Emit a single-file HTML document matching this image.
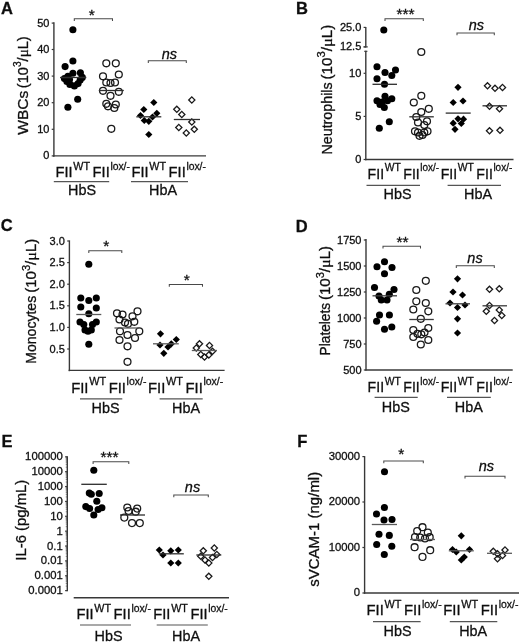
<!DOCTYPE html>
<html lang="en">
<head>
<meta charset="utf-8">
<title>Figure</title>
<style>
html,body{margin:0;padding:0;background:#fff;}
body{width:520px;height:643px;overflow:hidden;}
svg{display:block;}
svg text{font-family:"Liberation Sans",sans-serif;fill:#111;stroke:#111;stroke-width:0.3px;}
</style>
</head>
<body>
<svg width="520" height="643" viewBox="0 0 520 643">
<defs><filter id="soft" x="0" y="0" width="100%" height="100%" filterUnits="userSpaceOnUse"><feGaussianBlur stdDeviation="0.4"/></filter></defs>
<rect width="520" height="643" fill="#fff"/>
<g filter="url(#soft)">
<text x="1" y="13.7" font-size="16.5" font-weight="bold">A</text>
<line x1="53.9" y1="22.3" x2="53.9" y2="156.7" stroke="#383838" stroke-width="1.4"/>
<line x1="53.12" y1="155.9" x2="206" y2="155.9" stroke="#383838" stroke-width="1.4"/>
<line x1="51.7" y1="23.1" x2="53.9" y2="23.1" stroke="#383838" stroke-width="1.2"/>
<text x="49.4" y="26.6" font-size="11" text-anchor="end">50</text>
<line x1="51.7" y1="49.5" x2="53.9" y2="49.5" stroke="#383838" stroke-width="1.2"/>
<text x="49.4" y="53" font-size="11" text-anchor="end">40</text>
<line x1="51.7" y1="76.1" x2="53.9" y2="76.1" stroke="#383838" stroke-width="1.2"/>
<text x="49.4" y="79.6" font-size="11" text-anchor="end">30</text>
<line x1="51.7" y1="102.7" x2="53.9" y2="102.7" stroke="#383838" stroke-width="1.2"/>
<text x="49.4" y="106.2" font-size="11" text-anchor="end">20</text>
<line x1="51.7" y1="129.3" x2="53.9" y2="129.3" stroke="#383838" stroke-width="1.2"/>
<text x="49.4" y="132.8" font-size="11" text-anchor="end">10</text>
<line x1="51.7" y1="155.9" x2="53.9" y2="155.9" stroke="#383838" stroke-width="1.2"/>
<text x="49.4" y="159.4" font-size="11" text-anchor="end">0</text>
<text transform="translate(27.8 134.8) rotate(-90)" font-size="15" stroke="none" textLength="44.1" lengthAdjust="spacingAndGlyphs">WBCs</text>
<text transform="translate(27.8 88.2) rotate(-90)" font-size="15" stroke="none" textLength="51.9" lengthAdjust="spacingAndGlyphs">(10<tspan font-size="10.5" dy="-6.8">3</tspan><tspan dy="6.8">/</tspan><tspan font-family="'Liberation Serif',serif" font-size="15.5">μ</tspan>L)</text>
<circle cx="72.9" cy="29.8" r="3.5500000000000003" fill="#000"/>
<circle cx="72.9" cy="61" r="3.5500000000000003" fill="#000"/>
<circle cx="65.1" cy="66.6" r="3.5500000000000003" fill="#000"/>
<circle cx="72.9" cy="73.2" r="3.5500000000000003" fill="#000"/>
<circle cx="80.4" cy="72.8" r="3.5500000000000003" fill="#000"/>
<circle cx="64.4" cy="78.6" r="3.5500000000000003" fill="#000"/>
<circle cx="67.9" cy="76.2" r="3.5500000000000003" fill="#000"/>
<circle cx="66.9" cy="81.4" r="3.5500000000000003" fill="#000"/>
<circle cx="69.9" cy="84.4" r="3.5500000000000003" fill="#000"/>
<circle cx="74.4" cy="85.9" r="3.5500000000000003" fill="#000"/>
<circle cx="78.1" cy="83.6" r="3.5500000000000003" fill="#000"/>
<circle cx="80.2" cy="79.9" r="3.5500000000000003" fill="#000"/>
<circle cx="82.3" cy="77.4" r="3.5500000000000003" fill="#000"/>
<circle cx="69.5" cy="79.5" r="3.5500000000000003" fill="#000"/>
<circle cx="77.7" cy="99.3" r="3.5500000000000003" fill="#000"/>
<circle cx="67.9" cy="107.3" r="3.5500000000000003" fill="#000"/>
<line x1="60" y1="77.5" x2="86.3" y2="77.5" stroke="#2e2e2e" stroke-width="1.3"/>
<circle cx="106.3" cy="63.3" r="3.45" fill="none" stroke="#1a1a1a" stroke-width="1.3"/>
<circle cx="115.8" cy="63.3" r="3.45" fill="none" stroke="#1a1a1a" stroke-width="1.3"/>
<circle cx="118.8" cy="74.5" r="3.45" fill="none" stroke="#1a1a1a" stroke-width="1.3"/>
<circle cx="103" cy="76.3" r="3.45" fill="none" stroke="#1a1a1a" stroke-width="1.3"/>
<circle cx="106.3" cy="82.5" r="3.45" fill="none" stroke="#1a1a1a" stroke-width="1.3"/>
<circle cx="110.5" cy="83" r="3.45" fill="none" stroke="#1a1a1a" stroke-width="1.3"/>
<circle cx="115" cy="82.5" r="3.45" fill="none" stroke="#1a1a1a" stroke-width="1.3"/>
<circle cx="103" cy="90.8" r="3.45" fill="none" stroke="#1a1a1a" stroke-width="1.3"/>
<circle cx="118.8" cy="91.8" r="3.45" fill="none" stroke="#1a1a1a" stroke-width="1.3"/>
<circle cx="110.5" cy="95.8" r="3.45" fill="none" stroke="#1a1a1a" stroke-width="1.3"/>
<circle cx="106.3" cy="103.8" r="3.45" fill="none" stroke="#1a1a1a" stroke-width="1.3"/>
<circle cx="115.8" cy="104.5" r="3.45" fill="none" stroke="#1a1a1a" stroke-width="1.3"/>
<circle cx="108" cy="106.3" r="3.45" fill="none" stroke="#1a1a1a" stroke-width="1.3"/>
<circle cx="114.3" cy="108" r="3.45" fill="none" stroke="#1a1a1a" stroke-width="1.3"/>
<circle cx="111.3" cy="128.8" r="3.45" fill="none" stroke="#1a1a1a" stroke-width="1.3"/>
<line x1="98.8" y1="90.5" x2="123.8" y2="90.5" stroke="#2e2e2e" stroke-width="1.3"/>
<path d="M153.8 98.9L157.4 102.5L153.8 106.1L150.2 102.5Z" fill="#000"/>
<path d="M143.8 105.9L147.4 109.5L143.8 113.1L140.2 109.5Z" fill="#000"/>
<path d="M156.8 109.7L160.4 113.3L156.8 116.9L153.2 113.3Z" fill="#000"/>
<path d="M140.5 111.9L144.1 115.5L140.5 119.1L136.9 115.5Z" fill="#000"/>
<path d="M152.5 113.4L156.1 117L152.5 120.6L148.9 117Z" fill="#000"/>
<path d="M144.3 116.9L147.9 120.5L144.3 124.1L140.7 120.5Z" fill="#000"/>
<path d="M148.8 117.7L152.4 121.3L148.8 124.9L145.2 121.3Z" fill="#000"/>
<path d="M148.8 130.9L152.4 134.5L148.8 138.1L145.2 134.5Z" fill="#000"/>
<line x1="136.3" y1="116.8" x2="161.3" y2="116.8" stroke="#2e2e2e" stroke-width="1.3"/>
<path d="M191.8 96.9L194.9 100L191.8 103.1L188.7 100Z" fill="none" stroke="#1a1a1a" stroke-width="1.3"/>
<path d="M176.8 106.2L179.9 109.3L176.8 112.4L173.7 109.3Z" fill="none" stroke="#1a1a1a" stroke-width="1.3"/>
<path d="M181.8 111.4L184.9 114.5L181.8 117.6L178.7 114.5Z" fill="none" stroke="#1a1a1a" stroke-width="1.3"/>
<path d="M191.8 118.9L194.9 122L191.8 125.1L188.7 122Z" fill="none" stroke="#1a1a1a" stroke-width="1.3"/>
<path d="M178.8 124.4L181.9 127.5L178.8 130.6L175.7 127.5Z" fill="none" stroke="#1a1a1a" stroke-width="1.3"/>
<path d="M194.3 126.2L197.4 129.3L194.3 132.4L191.2 129.3Z" fill="none" stroke="#1a1a1a" stroke-width="1.3"/>
<path d="M186.3 129.9L189.4 133L186.3 136.1L183.2 133Z" fill="none" stroke="#1a1a1a" stroke-width="1.3"/>
<line x1="173.8" y1="119.5" x2="200" y2="119.5" stroke="#2e2e2e" stroke-width="1.3"/>
<path d="M74.3 21V18.8H112.5V21" fill="none" stroke="#4a4a4a" stroke-width="1.05"/>
<text x="91.8" y="19.7" font-size="15.5" text-anchor="middle" stroke-width="0.7">*</text>
<path d="M148.3 63V60.8H186.3V63" fill="none" stroke="#4a4a4a" stroke-width="1.05"/>
<text x="169.3" y="58.5" font-size="14.5" text-anchor="middle" font-style="italic">ns</text>
<text x="55.5" y="177" font-size="14.3" textLength="17.14" lengthAdjust="spacingAndGlyphs">FII</text>
<text x="73.35" y="169.6" font-size="11" textLength="16.73" lengthAdjust="spacingAndGlyphs">WT</text>
<text x="92.63" y="177" font-size="14.3" textLength="17.14" lengthAdjust="spacingAndGlyphs">FII</text>
<text x="110.38" y="169.6" font-size="11" textLength="19.58" lengthAdjust="spacingAndGlyphs">lox/-</text>
<text x="131.5" y="177" font-size="14.3" textLength="17.14" lengthAdjust="spacingAndGlyphs">FII</text>
<text x="149.35" y="169.6" font-size="11" textLength="16.73" lengthAdjust="spacingAndGlyphs">WT</text>
<text x="168.63" y="177" font-size="14.3" textLength="17.14" lengthAdjust="spacingAndGlyphs">FII</text>
<text x="186.38" y="169.6" font-size="11" textLength="19.58" lengthAdjust="spacingAndGlyphs">lox/-</text>
<line x1="53.8" y1="181.6" x2="109.2" y2="181.6" stroke="#555" stroke-width="1.2"/>
<line x1="131" y1="181.6" x2="188" y2="181.6" stroke="#555" stroke-width="1.2"/>
<text x="82" y="194.5" font-size="14.4" text-anchor="middle">HbS</text>
<text x="163" y="194.5" font-size="14.4" text-anchor="middle">HbA</text>
<text x="296" y="13.5" font-size="16.5" font-weight="bold">B</text>
<line x1="365.8" y1="26.9" x2="365.8" y2="47.4" stroke="#383838" stroke-width="1.4"/>
<line x1="365.8" y1="50.8" x2="365.8" y2="160.2" stroke="#383838" stroke-width="1.4"/>
<line x1="363.6" y1="46.9" x2="367.8" y2="46.9" stroke="#383838" stroke-width="1.1"/>
<line x1="364.2" y1="51.3" x2="367.4" y2="51.3" stroke="#383838" stroke-width="1.1"/>
<line x1="365.1" y1="159.5" x2="513.5" y2="159.5" stroke="#383838" stroke-width="1.4"/>
<line x1="363.6" y1="27.4" x2="365.8" y2="27.4" stroke="#383838" stroke-width="1.2"/>
<text x="361.3" y="30.9" font-size="11" text-anchor="end">25.0</text>
<line x1="363.6" y1="46.9" x2="365.8" y2="46.9" stroke="#383838" stroke-width="1.2"/>
<text x="361.3" y="50.4" font-size="11" text-anchor="end">12.5</text>
<line x1="363.6" y1="73.3" x2="365.8" y2="73.3" stroke="#383838" stroke-width="1.2"/>
<text x="361.3" y="76.8" font-size="11" text-anchor="end">10</text>
<line x1="363.6" y1="116.4" x2="365.8" y2="116.4" stroke="#383838" stroke-width="1.2"/>
<text x="361.3" y="119.9" font-size="11" text-anchor="end">5</text>
<line x1="363.6" y1="159.5" x2="365.8" y2="159.5" stroke="#383838" stroke-width="1.2"/>
<text x="361.3" y="163" font-size="11" text-anchor="end">0</text>
<text transform="translate(331.9 154.5) rotate(-90)" font-size="14.3" stroke="none" textLength="72.1" lengthAdjust="spacingAndGlyphs">Neutrophils</text>
<text transform="translate(331.9 79.5) rotate(-90)" font-size="14.3" stroke="none" textLength="54.8" lengthAdjust="spacingAndGlyphs">(10<tspan font-size="10.5" dy="-6.8">3</tspan><tspan dy="6.8">/</tspan><tspan font-family="'Liberation Serif',serif" font-size="15.5">μ</tspan>L)</text>
<circle cx="383.8" cy="30" r="3.5500000000000003" fill="#000"/>
<circle cx="377" cy="66.8" r="3.5500000000000003" fill="#000"/>
<circle cx="395.5" cy="70" r="3.5500000000000003" fill="#000"/>
<circle cx="385" cy="72.5" r="3.5500000000000003" fill="#000"/>
<circle cx="391.8" cy="75.5" r="3.5500000000000003" fill="#000"/>
<circle cx="377" cy="78.8" r="3.5500000000000003" fill="#000"/>
<circle cx="384.5" cy="84.3" r="3.5500000000000003" fill="#000"/>
<circle cx="385" cy="96.3" r="3.5500000000000003" fill="#000"/>
<circle cx="391.8" cy="98.8" r="3.5500000000000003" fill="#000"/>
<circle cx="377" cy="100.8" r="3.5500000000000003" fill="#000"/>
<circle cx="387.5" cy="100.8" r="3.5500000000000003" fill="#000"/>
<circle cx="380" cy="104.5" r="3.5500000000000003" fill="#000"/>
<circle cx="384.3" cy="107.5" r="3.5500000000000003" fill="#000"/>
<circle cx="389.3" cy="121.8" r="3.5500000000000003" fill="#000"/>
<circle cx="379.3" cy="128.3" r="3.5500000000000003" fill="#000"/>
<circle cx="382" cy="102" r="3.5500000000000003" fill="#000"/>
<line x1="372.5" y1="84.3" x2="397" y2="84.3" stroke="#2e2e2e" stroke-width="1.3"/>
<circle cx="421.3" cy="52" r="3.45" fill="none" stroke="#1a1a1a" stroke-width="1.3"/>
<circle cx="421.3" cy="95.8" r="3.45" fill="none" stroke="#1a1a1a" stroke-width="1.3"/>
<circle cx="413.8" cy="102.5" r="3.45" fill="none" stroke="#1a1a1a" stroke-width="1.3"/>
<circle cx="428.8" cy="108.8" r="3.45" fill="none" stroke="#1a1a1a" stroke-width="1.3"/>
<circle cx="421.3" cy="112" r="3.45" fill="none" stroke="#1a1a1a" stroke-width="1.3"/>
<circle cx="416.3" cy="117" r="3.45" fill="none" stroke="#1a1a1a" stroke-width="1.3"/>
<circle cx="427" cy="121.3" r="3.45" fill="none" stroke="#1a1a1a" stroke-width="1.3"/>
<circle cx="418" cy="122.5" r="3.45" fill="none" stroke="#1a1a1a" stroke-width="1.3"/>
<circle cx="424.3" cy="125" r="3.45" fill="none" stroke="#1a1a1a" stroke-width="1.3"/>
<circle cx="415" cy="131.3" r="3.45" fill="none" stroke="#1a1a1a" stroke-width="1.3"/>
<circle cx="427.5" cy="131.3" r="3.45" fill="none" stroke="#1a1a1a" stroke-width="1.3"/>
<circle cx="418" cy="132.5" r="3.45" fill="none" stroke="#1a1a1a" stroke-width="1.3"/>
<circle cx="424.3" cy="132.5" r="3.45" fill="none" stroke="#1a1a1a" stroke-width="1.3"/>
<circle cx="419.5" cy="135.8" r="3.45" fill="none" stroke="#1a1a1a" stroke-width="1.3"/>
<circle cx="422.5" cy="135" r="3.45" fill="none" stroke="#1a1a1a" stroke-width="1.3"/>
<line x1="409.3" y1="116.8" x2="433.8" y2="116.8" stroke="#2e2e2e" stroke-width="1.3"/>
<path d="M458 83.7L461.6 87.3L458 90.9L454.4 87.3Z" fill="#000"/>
<path d="M453.2 98.9L456.8 102.5L453.2 106.1L449.6 102.5Z" fill="#000"/>
<path d="M463 97.4L466.6 101L463 104.6L459.4 101Z" fill="#000"/>
<path d="M458 115.2L461.6 118.8L458 122.4L454.4 118.8Z" fill="#000"/>
<path d="M463.5 115.6L467.1 119.2L463.5 122.8L459.9 119.2Z" fill="#000"/>
<path d="M453.2 119.6L456.8 123.2L453.2 126.8L449.6 123.2Z" fill="#000"/>
<path d="M461.3 119.9L464.9 123.5L461.3 127.1L457.7 123.5Z" fill="#000"/>
<path d="M455 125.7L458.6 129.3L455 132.9L451.4 129.3Z" fill="#000"/>
<line x1="445.7" y1="113.1" x2="470.7" y2="113.1" stroke="#2e2e2e" stroke-width="1.3"/>
<path d="M487.5 82.7L490.6 85.8L487.5 88.9L484.4 85.8Z" fill="none" stroke="#1a1a1a" stroke-width="1.3"/>
<path d="M495 85.2L498.1 88.3L495 91.4L491.9 88.3Z" fill="none" stroke="#1a1a1a" stroke-width="1.3"/>
<path d="M502.5 84.4L505.6 87.5L502.5 90.6L499.4 87.5Z" fill="none" stroke="#1a1a1a" stroke-width="1.3"/>
<path d="M489.5 103.2L492.6 106.3L489.5 109.4L486.4 106.3Z" fill="none" stroke="#1a1a1a" stroke-width="1.3"/>
<path d="M499.5 105.7L502.6 108.8L499.5 111.9L496.4 108.8Z" fill="none" stroke="#1a1a1a" stroke-width="1.3"/>
<path d="M489.5 127.7L492.6 130.8L489.5 133.9L486.4 130.8Z" fill="none" stroke="#1a1a1a" stroke-width="1.3"/>
<path d="M500 127.2L503.1 130.3L500 133.4L496.9 130.3Z" fill="none" stroke="#1a1a1a" stroke-width="1.3"/>
<line x1="482.5" y1="105.8" x2="507" y2="105.8" stroke="#2e2e2e" stroke-width="1.3"/>
<path d="M385 21V18.8H423.3V21" fill="none" stroke="#4a4a4a" stroke-width="1.05"/>
<text x="405.5" y="19.4" font-size="15.5" text-anchor="middle" stroke-width="0.7">***</text>
<path d="M457 35.2V33H494.3V35.2" fill="none" stroke="#4a4a4a" stroke-width="1.05"/>
<text x="476.3" y="30" font-size="14.5" text-anchor="middle" font-style="italic">ns</text>
<text x="367.6" y="178.5" font-size="14.3" textLength="16.46" lengthAdjust="spacingAndGlyphs">FII</text>
<text x="384.75" y="171.1" font-size="11" textLength="16.07" lengthAdjust="spacingAndGlyphs">WT</text>
<text x="403.27" y="178.5" font-size="14.3" textLength="16.46" lengthAdjust="spacingAndGlyphs">FII</text>
<text x="420.32" y="171.1" font-size="11" textLength="18.82" lengthAdjust="spacingAndGlyphs">lox/-</text>
<text x="440.7" y="178.5" font-size="14.3" textLength="16.46" lengthAdjust="spacingAndGlyphs">FII</text>
<text x="457.85" y="171.1" font-size="11" textLength="16.07" lengthAdjust="spacingAndGlyphs">WT</text>
<text x="476.37" y="178.5" font-size="14.3" textLength="16.46" lengthAdjust="spacingAndGlyphs">FII</text>
<text x="493.42" y="171.1" font-size="11" textLength="18.82" lengthAdjust="spacingAndGlyphs">lox/-</text>
<line x1="366.5" y1="185.3" x2="420" y2="185.3" stroke="#555" stroke-width="1.2"/>
<line x1="447.6" y1="185.3" x2="501" y2="185.3" stroke="#555" stroke-width="1.2"/>
<text x="397.6" y="198.9" font-size="14.4" text-anchor="middle">HbS</text>
<text x="478" y="198.9" font-size="14.4" text-anchor="middle">HbA</text>
<text x="0.7" y="231.2" font-size="16.5" font-weight="bold">C</text>
<line x1="69.4" y1="240.4" x2="69.4" y2="371.2" stroke="#383838" stroke-width="1.4"/>
<line x1="68.62" y1="370.4" x2="224.6" y2="370.4" stroke="#383838" stroke-width="1.4"/>
<line x1="67.2" y1="241" x2="69.4" y2="241" stroke="#383838" stroke-width="1.2"/>
<text x="64.9" y="244.5" font-size="11" text-anchor="end">3.0</text>
<line x1="67.2" y1="262.6" x2="69.4" y2="262.6" stroke="#383838" stroke-width="1.2"/>
<text x="64.9" y="266.1" font-size="11" text-anchor="end">2.5</text>
<line x1="67.2" y1="284.2" x2="69.4" y2="284.2" stroke="#383838" stroke-width="1.2"/>
<text x="64.9" y="287.7" font-size="11" text-anchor="end">2.0</text>
<line x1="67.2" y1="305.8" x2="69.4" y2="305.8" stroke="#383838" stroke-width="1.2"/>
<text x="64.9" y="309.3" font-size="11" text-anchor="end">1.5</text>
<line x1="67.2" y1="327.4" x2="69.4" y2="327.4" stroke="#383838" stroke-width="1.2"/>
<text x="64.9" y="330.9" font-size="11" text-anchor="end">1.0</text>
<line x1="67.2" y1="349" x2="69.4" y2="349" stroke="#383838" stroke-width="1.2"/>
<text x="64.9" y="352.5" font-size="11" text-anchor="end">0.5</text>
<text transform="translate(36.4 363.7) rotate(-90)" font-size="14.3" stroke="none" textLength="67.9" lengthAdjust="spacingAndGlyphs">Monocytes</text>
<text transform="translate(36.4 292.8) rotate(-90)" font-size="14.3" stroke="none" textLength="54.1" lengthAdjust="spacingAndGlyphs">(10<tspan font-size="10.5" dy="-6.8">3</tspan><tspan dy="6.8">/</tspan><tspan font-family="'Liberation Serif',serif" font-size="15.5">μ</tspan>L)</text>
<circle cx="88.8" cy="264.3" r="3.5500000000000003" fill="#000"/>
<circle cx="80.8" cy="298" r="3.5500000000000003" fill="#000"/>
<circle cx="88.8" cy="300.5" r="3.5500000000000003" fill="#000"/>
<circle cx="96.3" cy="298" r="3.5500000000000003" fill="#000"/>
<circle cx="80.8" cy="307" r="3.5500000000000003" fill="#000"/>
<circle cx="96.3" cy="308" r="3.5500000000000003" fill="#000"/>
<circle cx="88.8" cy="313.8" r="3.5500000000000003" fill="#000"/>
<circle cx="80" cy="322" r="3.5500000000000003" fill="#000"/>
<circle cx="96.3" cy="322" r="3.5500000000000003" fill="#000"/>
<circle cx="83.8" cy="324.5" r="3.5500000000000003" fill="#000"/>
<circle cx="92.5" cy="324.5" r="3.5500000000000003" fill="#000"/>
<circle cx="85" cy="330" r="3.5500000000000003" fill="#000"/>
<circle cx="91.3" cy="330" r="3.5500000000000003" fill="#000"/>
<circle cx="88" cy="331.3" r="3.5500000000000003" fill="#000"/>
<circle cx="88.8" cy="344.3" r="3.5500000000000003" fill="#000"/>
<line x1="76.3" y1="314.5" x2="101.3" y2="314.5" stroke="#5a5a5a" stroke-width="1.3"/>
<circle cx="137.5" cy="311.3" r="3.45" fill="none" stroke="#1a1a1a" stroke-width="1.3"/>
<circle cx="117" cy="313.3" r="3.45" fill="none" stroke="#1a1a1a" stroke-width="1.3"/>
<circle cx="122.5" cy="314.5" r="3.45" fill="none" stroke="#1a1a1a" stroke-width="1.3"/>
<circle cx="132.5" cy="316.3" r="3.45" fill="none" stroke="#1a1a1a" stroke-width="1.3"/>
<circle cx="119.5" cy="319.5" r="3.45" fill="none" stroke="#1a1a1a" stroke-width="1.3"/>
<circle cx="134.3" cy="321.8" r="3.45" fill="none" stroke="#1a1a1a" stroke-width="1.3"/>
<circle cx="125" cy="322.5" r="3.45" fill="none" stroke="#1a1a1a" stroke-width="1.3"/>
<circle cx="128" cy="323.8" r="3.45" fill="none" stroke="#1a1a1a" stroke-width="1.3"/>
<circle cx="120" cy="331.3" r="3.45" fill="none" stroke="#1a1a1a" stroke-width="1.3"/>
<circle cx="139.3" cy="331.3" r="3.45" fill="none" stroke="#1a1a1a" stroke-width="1.3"/>
<circle cx="127.5" cy="335" r="3.45" fill="none" stroke="#1a1a1a" stroke-width="1.3"/>
<circle cx="135" cy="338" r="3.45" fill="none" stroke="#1a1a1a" stroke-width="1.3"/>
<circle cx="119.5" cy="340" r="3.45" fill="none" stroke="#1a1a1a" stroke-width="1.3"/>
<circle cx="127.5" cy="346.3" r="3.45" fill="none" stroke="#1a1a1a" stroke-width="1.3"/>
<circle cx="127.5" cy="361.8" r="3.45" fill="none" stroke="#1a1a1a" stroke-width="1.3"/>
<line x1="114.5" y1="328" x2="139.5" y2="328" stroke="#5a5a5a" stroke-width="1.3"/>
<path d="M160.5 330.2L164.1 333.8L160.5 337.4L156.9 333.8Z" fill="#000"/>
<path d="M176.3 335.9L179.9 339.5L176.3 343.1L172.7 339.5Z" fill="#000"/>
<path d="M171.3 340.2L174.9 343.8L171.3 347.4L167.7 343.8Z" fill="#000"/>
<path d="M160 341.4L163.6 345L160 348.6L156.4 345Z" fill="#000"/>
<path d="M168 343.4L171.6 347L168 350.6L164.4 347Z" fill="#000"/>
<path d="M163.8 349.7L167.4 353.3L163.8 356.9L160.2 353.3Z" fill="#000"/>
<line x1="153" y1="343.8" x2="178.8" y2="343.8" stroke="#5a5a5a" stroke-width="1.3"/>
<path d="M199.5 340.7L202.6 343.8L199.5 346.9L196.4 343.8Z" fill="none" stroke="#1a1a1a" stroke-width="1.3"/>
<path d="M209.5 342.4L212.6 345.5L209.5 348.6L206.4 345.5Z" fill="none" stroke="#1a1a1a" stroke-width="1.3"/>
<path d="M196.3 344.9L199.4 348L196.3 351.1L193.2 348Z" fill="none" stroke="#1a1a1a" stroke-width="1.3"/>
<path d="M212.5 348.2L215.6 351.3L212.5 354.4L209.4 351.3Z" fill="none" stroke="#1a1a1a" stroke-width="1.3"/>
<path d="M200.8 351.4L203.9 354.5L200.8 357.6L197.7 354.5Z" fill="none" stroke="#1a1a1a" stroke-width="1.3"/>
<path d="M208.8 351.9L211.9 355L208.8 358.1L205.7 355Z" fill="none" stroke="#1a1a1a" stroke-width="1.3"/>
<path d="M204.5 353.9L207.6 357L204.5 360.1L201.4 357Z" fill="none" stroke="#1a1a1a" stroke-width="1.3"/>
<line x1="191.8" y1="350.5" x2="217" y2="350.5" stroke="#5a5a5a" stroke-width="1.3"/>
<path d="M88.8 253V250.8H121.8V253" fill="none" stroke="#4a4a4a" stroke-width="1.05"/>
<text x="106.3" y="251.2" font-size="15.5" text-anchor="middle" stroke-width="0.7">*</text>
<path d="M169.3 286.7V284.5H202.5V286.7" fill="none" stroke="#4a4a4a" stroke-width="1.05"/>
<text x="186.8" y="284.7" font-size="15.5" text-anchor="middle" stroke-width="0.7">*</text>
<text x="71.2" y="392.6" font-size="14.3" textLength="17.3" lengthAdjust="spacingAndGlyphs">FII</text>
<text x="89.23" y="385.2" font-size="11" textLength="16.89" lengthAdjust="spacingAndGlyphs">WT</text>
<text x="108.69" y="392.6" font-size="14.3" textLength="17.3" lengthAdjust="spacingAndGlyphs">FII</text>
<text x="126.61" y="385.2" font-size="11" textLength="19.78" lengthAdjust="spacingAndGlyphs">lox/-</text>
<text x="148" y="392.6" font-size="14.3" textLength="17.3" lengthAdjust="spacingAndGlyphs">FII</text>
<text x="166.03" y="385.2" font-size="11" textLength="16.89" lengthAdjust="spacingAndGlyphs">WT</text>
<text x="185.49" y="392.6" font-size="14.3" textLength="17.3" lengthAdjust="spacingAndGlyphs">FII</text>
<text x="203.41" y="385.2" font-size="11" textLength="19.78" lengthAdjust="spacingAndGlyphs">lox/-</text>
<line x1="80" y1="398.9" x2="122.3" y2="398.9" stroke="#555" stroke-width="1.2"/>
<line x1="159.6" y1="398.9" x2="202.7" y2="398.9" stroke="#555" stroke-width="1.2"/>
<text x="105.5" y="413.1" font-size="14.4" text-anchor="middle">HbS</text>
<text x="186" y="413.1" font-size="14.4" text-anchor="middle">HbA</text>
<text x="295.8" y="231.6" font-size="16.5" font-weight="bold">D</text>
<line x1="366" y1="239.1" x2="366" y2="370.6" stroke="#383838" stroke-width="1.4"/>
<line x1="365.4" y1="370" x2="512.7" y2="370" stroke="#383838" stroke-width="1.4"/>
<line x1="363.8" y1="240" x2="366" y2="240" stroke="#383838" stroke-width="1.2"/>
<text x="361.5" y="243.5" font-size="11" text-anchor="end">1750</text>
<line x1="363.8" y1="266" x2="366" y2="266" stroke="#383838" stroke-width="1.2"/>
<text x="361.5" y="269.5" font-size="11" text-anchor="end">1500</text>
<line x1="363.8" y1="292" x2="366" y2="292" stroke="#383838" stroke-width="1.2"/>
<text x="361.5" y="295.5" font-size="11" text-anchor="end">1250</text>
<line x1="363.8" y1="318" x2="366" y2="318" stroke="#383838" stroke-width="1.2"/>
<text x="361.5" y="321.5" font-size="11" text-anchor="end">1000</text>
<line x1="363.8" y1="344" x2="366" y2="344" stroke="#383838" stroke-width="1.2"/>
<text x="361.5" y="347.5" font-size="11" text-anchor="end">750</text>
<line x1="363.8" y1="370" x2="366" y2="370" stroke="#383838" stroke-width="1.2"/>
<text x="361.5" y="373.5" font-size="11" text-anchor="end">500</text>
<text transform="translate(330.3 355.4) rotate(-90)" font-size="14.3" stroke="none" textLength="52.5" lengthAdjust="spacingAndGlyphs">Platelets</text>
<text transform="translate(330.3 300) rotate(-90)" font-size="14.3" stroke="none" textLength="54.1" lengthAdjust="spacingAndGlyphs">(10<tspan font-size="10.5" dy="-6.8">3</tspan><tspan dy="6.8">/</tspan><tspan font-family="'Liberation Serif',serif" font-size="15.5">μ</tspan>L)</text>
<circle cx="384.5" cy="261.8" r="3.5500000000000003" fill="#000"/>
<circle cx="377" cy="266.8" r="3.5500000000000003" fill="#000"/>
<circle cx="392" cy="267.5" r="3.5500000000000003" fill="#000"/>
<circle cx="384.5" cy="273.8" r="3.5500000000000003" fill="#000"/>
<circle cx="374.5" cy="287.5" r="3.5500000000000003" fill="#000"/>
<circle cx="394" cy="289.5" r="3.5500000000000003" fill="#000"/>
<circle cx="389.3" cy="294.3" r="3.5500000000000003" fill="#000"/>
<circle cx="379" cy="296" r="3.5500000000000003" fill="#000"/>
<circle cx="381.3" cy="300" r="3.5500000000000003" fill="#000"/>
<circle cx="387" cy="300" r="3.5500000000000003" fill="#000"/>
<circle cx="379.5" cy="315" r="3.5500000000000003" fill="#000"/>
<circle cx="389.4" cy="315" r="3.5500000000000003" fill="#000"/>
<circle cx="376.6" cy="321.3" r="3.5500000000000003" fill="#000"/>
<circle cx="391.8" cy="327" r="3.5500000000000003" fill="#000"/>
<circle cx="384.5" cy="329.3" r="3.5500000000000003" fill="#000"/>
<line x1="372.5" y1="295.8" x2="397" y2="295.8" stroke="#3a3a3a" stroke-width="1.3"/>
<circle cx="425.8" cy="280.8" r="3.45" fill="none" stroke="#1a1a1a" stroke-width="1.3"/>
<circle cx="416.3" cy="290" r="3.45" fill="none" stroke="#1a1a1a" stroke-width="1.3"/>
<circle cx="416.3" cy="301.3" r="3.45" fill="none" stroke="#1a1a1a" stroke-width="1.3"/>
<circle cx="425.8" cy="303" r="3.45" fill="none" stroke="#1a1a1a" stroke-width="1.3"/>
<circle cx="413.3" cy="309.5" r="3.45" fill="none" stroke="#1a1a1a" stroke-width="1.3"/>
<circle cx="428.3" cy="311.3" r="3.45" fill="none" stroke="#1a1a1a" stroke-width="1.3"/>
<circle cx="420.8" cy="318.8" r="3.45" fill="none" stroke="#1a1a1a" stroke-width="1.3"/>
<circle cx="428.3" cy="328" r="3.45" fill="none" stroke="#1a1a1a" stroke-width="1.3"/>
<circle cx="413.3" cy="330" r="3.45" fill="none" stroke="#1a1a1a" stroke-width="1.3"/>
<circle cx="424.5" cy="332.5" r="3.45" fill="none" stroke="#1a1a1a" stroke-width="1.3"/>
<circle cx="417.5" cy="333.8" r="3.45" fill="none" stroke="#1a1a1a" stroke-width="1.3"/>
<circle cx="421.3" cy="334.3" r="3.45" fill="none" stroke="#1a1a1a" stroke-width="1.3"/>
<circle cx="413.3" cy="337" r="3.45" fill="none" stroke="#1a1a1a" stroke-width="1.3"/>
<circle cx="428.3" cy="340" r="3.45" fill="none" stroke="#1a1a1a" stroke-width="1.3"/>
<circle cx="420.8" cy="344.5" r="3.45" fill="none" stroke="#1a1a1a" stroke-width="1.3"/>
<line x1="409.3" y1="319.5" x2="433.8" y2="319.5" stroke="#3a3a3a" stroke-width="1.3"/>
<path d="M457.5 275.2L461.1 278.8L457.5 282.4L453.9 278.8Z" fill="#000"/>
<path d="M453 288.4L456.6 292L453 295.6L449.4 292Z" fill="#000"/>
<path d="M462.5 291.4L466.1 295L462.5 298.6L458.9 295Z" fill="#000"/>
<path d="M450 299.4L453.6 303L450 306.6L446.4 303Z" fill="#000"/>
<path d="M465 301.4L468.6 305L465 308.6L461.4 305Z" fill="#000"/>
<path d="M457.5 303.9L461.1 307.5L457.5 311.1L453.9 307.5Z" fill="#000"/>
<path d="M457.5 315.2L461.1 318.8L457.5 322.4L453.9 318.8Z" fill="#000"/>
<path d="M457.5 329.4L461.1 333L457.5 336.6L453.9 333Z" fill="#000"/>
<line x1="445.5" y1="303.8" x2="470" y2="303.8" stroke="#3a3a3a" stroke-width="1.3"/>
<path d="M489.5 286.2L492.6 289.3L489.5 292.4L486.4 289.3Z" fill="none" stroke="#1a1a1a" stroke-width="1.3"/>
<path d="M499.3 285.7L502.4 288.8L499.3 291.9L496.2 288.8Z" fill="none" stroke="#1a1a1a" stroke-width="1.3"/>
<path d="M489.5 302.4L492.6 305.5L489.5 308.6L486.4 305.5Z" fill="none" stroke="#1a1a1a" stroke-width="1.3"/>
<path d="M486.3 308.2L489.4 311.3L486.3 314.4L483.2 311.3Z" fill="none" stroke="#1a1a1a" stroke-width="1.3"/>
<path d="M499.3 306.9L502.4 310L499.3 313.1L496.2 310Z" fill="none" stroke="#1a1a1a" stroke-width="1.3"/>
<path d="M501.8 312.4L504.9 315.5L501.8 318.6L498.7 315.5Z" fill="none" stroke="#1a1a1a" stroke-width="1.3"/>
<path d="M494.5 317.4L497.6 320.5L494.5 323.6L491.4 320.5Z" fill="none" stroke="#1a1a1a" stroke-width="1.3"/>
<line x1="482.5" y1="305.8" x2="507" y2="305.8" stroke="#3a3a3a" stroke-width="1.3"/>
<path d="M383 248.5V246.3H420.5V248.5" fill="none" stroke="#4a4a4a" stroke-width="1.05"/>
<text x="402.5" y="247.2" font-size="15.5" text-anchor="middle" stroke-width="0.7">**</text>
<path d="M456.3 268V265.8H494.3V268" fill="none" stroke="#4a4a4a" stroke-width="1.05"/>
<text x="475" y="263" font-size="14.5" text-anchor="middle" font-style="italic">ns</text>
<text x="367.6" y="392.1" font-size="14.3" textLength="16.46" lengthAdjust="spacingAndGlyphs">FII</text>
<text x="384.75" y="384.7" font-size="11" textLength="16.07" lengthAdjust="spacingAndGlyphs">WT</text>
<text x="403.27" y="392.1" font-size="14.3" textLength="16.46" lengthAdjust="spacingAndGlyphs">FII</text>
<text x="420.32" y="384.7" font-size="11" textLength="18.82" lengthAdjust="spacingAndGlyphs">lox/-</text>
<text x="440.7" y="392.1" font-size="14.3" textLength="16.46" lengthAdjust="spacingAndGlyphs">FII</text>
<text x="457.85" y="384.7" font-size="11" textLength="16.07" lengthAdjust="spacingAndGlyphs">WT</text>
<text x="476.37" y="392.1" font-size="14.3" textLength="16.46" lengthAdjust="spacingAndGlyphs">FII</text>
<text x="493.42" y="384.7" font-size="11" textLength="18.82" lengthAdjust="spacingAndGlyphs">lox/-</text>
<line x1="374.6" y1="397.3" x2="417.7" y2="397.3" stroke="#555" stroke-width="1.2"/>
<line x1="447" y1="397.3" x2="490.8" y2="397.3" stroke="#555" stroke-width="1.2"/>
<text x="395.8" y="411.8" font-size="14.4" text-anchor="middle">HbS</text>
<text x="468.8" y="411.8" font-size="14.4" text-anchor="middle">HbA</text>
<text x="1.4" y="447.4" font-size="16.5" font-weight="bold">E</text>
<line x1="67.3" y1="456.2" x2="67.3" y2="591.2" stroke="#383838" stroke-width="1.4"/>
<line x1="73.7" y1="597.7" x2="229" y2="597.7" stroke="#383838" stroke-width="1.4"/>
<line x1="65.1" y1="456.8" x2="67.3" y2="456.8" stroke="#383838" stroke-width="1.2"/>
<text x="62.8" y="460.3" font-size="11.3" text-anchor="end">100000</text>
<line x1="65.1" y1="471.67" x2="67.3" y2="471.67" stroke="#383838" stroke-width="1.2"/>
<text x="62.8" y="475.17" font-size="11.3" text-anchor="end">10000</text>
<line x1="65.1" y1="486.54" x2="67.3" y2="486.54" stroke="#383838" stroke-width="1.2"/>
<text x="62.8" y="490.04" font-size="11.3" text-anchor="end">1000</text>
<line x1="65.1" y1="501.41" x2="67.3" y2="501.41" stroke="#383838" stroke-width="1.2"/>
<text x="62.8" y="504.91" font-size="11.3" text-anchor="end">100</text>
<line x1="65.1" y1="516.28" x2="67.3" y2="516.28" stroke="#383838" stroke-width="1.2"/>
<text x="62.8" y="519.78" font-size="11.3" text-anchor="end">10</text>
<line x1="65.1" y1="531.15" x2="67.3" y2="531.15" stroke="#383838" stroke-width="1.2"/>
<text x="62.8" y="534.65" font-size="11.3" text-anchor="end">1</text>
<line x1="65.1" y1="546.02" x2="67.3" y2="546.02" stroke="#383838" stroke-width="1.2"/>
<text x="62.8" y="549.52" font-size="11.3" text-anchor="end">0.1</text>
<line x1="65.1" y1="560.89" x2="67.3" y2="560.89" stroke="#383838" stroke-width="1.2"/>
<text x="62.8" y="564.39" font-size="11.3" text-anchor="end">0.01</text>
<line x1="65.1" y1="575.76" x2="67.3" y2="575.76" stroke="#383838" stroke-width="1.2"/>
<text x="62.8" y="579.26" font-size="11.3" text-anchor="end">0.001</text>
<line x1="65.1" y1="590.63" x2="67.3" y2="590.63" stroke="#383838" stroke-width="1.2"/>
<text x="62.8" y="594.13" font-size="11.3" text-anchor="end">0.0001</text>
<line x1="65.7" y1="467.19" x2="67.3" y2="467.19" stroke="#444" stroke-width="0.6"/>
<line x1="65.7" y1="464.58" x2="67.3" y2="464.58" stroke="#444" stroke-width="0.6"/>
<line x1="65.7" y1="462.72" x2="67.3" y2="462.72" stroke="#444" stroke-width="0.6"/>
<line x1="65.7" y1="461.28" x2="67.3" y2="461.28" stroke="#444" stroke-width="0.6"/>
<line x1="65.7" y1="460.1" x2="67.3" y2="460.1" stroke="#444" stroke-width="0.6"/>
<line x1="65.7" y1="459.1" x2="67.3" y2="459.1" stroke="#444" stroke-width="0.6"/>
<line x1="65.7" y1="458.24" x2="67.3" y2="458.24" stroke="#444" stroke-width="0.6"/>
<line x1="65.7" y1="457.48" x2="67.3" y2="457.48" stroke="#444" stroke-width="0.6"/>
<line x1="65.7" y1="482.06" x2="67.3" y2="482.06" stroke="#444" stroke-width="0.6"/>
<line x1="65.7" y1="479.45" x2="67.3" y2="479.45" stroke="#444" stroke-width="0.6"/>
<line x1="65.7" y1="477.59" x2="67.3" y2="477.59" stroke="#444" stroke-width="0.6"/>
<line x1="65.7" y1="476.15" x2="67.3" y2="476.15" stroke="#444" stroke-width="0.6"/>
<line x1="65.7" y1="474.97" x2="67.3" y2="474.97" stroke="#444" stroke-width="0.6"/>
<line x1="65.7" y1="473.97" x2="67.3" y2="473.97" stroke="#444" stroke-width="0.6"/>
<line x1="65.7" y1="473.11" x2="67.3" y2="473.11" stroke="#444" stroke-width="0.6"/>
<line x1="65.7" y1="472.35" x2="67.3" y2="472.35" stroke="#444" stroke-width="0.6"/>
<line x1="65.7" y1="496.93" x2="67.3" y2="496.93" stroke="#444" stroke-width="0.6"/>
<line x1="65.7" y1="494.32" x2="67.3" y2="494.32" stroke="#444" stroke-width="0.6"/>
<line x1="65.7" y1="492.46" x2="67.3" y2="492.46" stroke="#444" stroke-width="0.6"/>
<line x1="65.7" y1="491.02" x2="67.3" y2="491.02" stroke="#444" stroke-width="0.6"/>
<line x1="65.7" y1="489.84" x2="67.3" y2="489.84" stroke="#444" stroke-width="0.6"/>
<line x1="65.7" y1="488.84" x2="67.3" y2="488.84" stroke="#444" stroke-width="0.6"/>
<line x1="65.7" y1="487.98" x2="67.3" y2="487.98" stroke="#444" stroke-width="0.6"/>
<line x1="65.7" y1="487.22" x2="67.3" y2="487.22" stroke="#444" stroke-width="0.6"/>
<line x1="65.7" y1="511.8" x2="67.3" y2="511.8" stroke="#444" stroke-width="0.6"/>
<line x1="65.7" y1="509.19" x2="67.3" y2="509.19" stroke="#444" stroke-width="0.6"/>
<line x1="65.7" y1="507.33" x2="67.3" y2="507.33" stroke="#444" stroke-width="0.6"/>
<line x1="65.7" y1="505.89" x2="67.3" y2="505.89" stroke="#444" stroke-width="0.6"/>
<line x1="65.7" y1="504.71" x2="67.3" y2="504.71" stroke="#444" stroke-width="0.6"/>
<line x1="65.7" y1="503.71" x2="67.3" y2="503.71" stroke="#444" stroke-width="0.6"/>
<line x1="65.7" y1="502.85" x2="67.3" y2="502.85" stroke="#444" stroke-width="0.6"/>
<line x1="65.7" y1="502.09" x2="67.3" y2="502.09" stroke="#444" stroke-width="0.6"/>
<line x1="65.7" y1="526.67" x2="67.3" y2="526.67" stroke="#444" stroke-width="0.6"/>
<line x1="65.7" y1="524.06" x2="67.3" y2="524.06" stroke="#444" stroke-width="0.6"/>
<line x1="65.7" y1="522.2" x2="67.3" y2="522.2" stroke="#444" stroke-width="0.6"/>
<line x1="65.7" y1="520.76" x2="67.3" y2="520.76" stroke="#444" stroke-width="0.6"/>
<line x1="65.7" y1="519.58" x2="67.3" y2="519.58" stroke="#444" stroke-width="0.6"/>
<line x1="65.7" y1="518.58" x2="67.3" y2="518.58" stroke="#444" stroke-width="0.6"/>
<line x1="65.7" y1="517.72" x2="67.3" y2="517.72" stroke="#444" stroke-width="0.6"/>
<line x1="65.7" y1="516.96" x2="67.3" y2="516.96" stroke="#444" stroke-width="0.6"/>
<line x1="65.7" y1="541.54" x2="67.3" y2="541.54" stroke="#444" stroke-width="0.6"/>
<line x1="65.7" y1="538.93" x2="67.3" y2="538.93" stroke="#444" stroke-width="0.6"/>
<line x1="65.7" y1="537.07" x2="67.3" y2="537.07" stroke="#444" stroke-width="0.6"/>
<line x1="65.7" y1="535.63" x2="67.3" y2="535.63" stroke="#444" stroke-width="0.6"/>
<line x1="65.7" y1="534.45" x2="67.3" y2="534.45" stroke="#444" stroke-width="0.6"/>
<line x1="65.7" y1="533.45" x2="67.3" y2="533.45" stroke="#444" stroke-width="0.6"/>
<line x1="65.7" y1="532.59" x2="67.3" y2="532.59" stroke="#444" stroke-width="0.6"/>
<line x1="65.7" y1="531.83" x2="67.3" y2="531.83" stroke="#444" stroke-width="0.6"/>
<line x1="65.7" y1="556.41" x2="67.3" y2="556.41" stroke="#444" stroke-width="0.6"/>
<line x1="65.7" y1="553.8" x2="67.3" y2="553.8" stroke="#444" stroke-width="0.6"/>
<line x1="65.7" y1="551.94" x2="67.3" y2="551.94" stroke="#444" stroke-width="0.6"/>
<line x1="65.7" y1="550.5" x2="67.3" y2="550.5" stroke="#444" stroke-width="0.6"/>
<line x1="65.7" y1="549.32" x2="67.3" y2="549.32" stroke="#444" stroke-width="0.6"/>
<line x1="65.7" y1="548.32" x2="67.3" y2="548.32" stroke="#444" stroke-width="0.6"/>
<line x1="65.7" y1="547.46" x2="67.3" y2="547.46" stroke="#444" stroke-width="0.6"/>
<line x1="65.7" y1="546.7" x2="67.3" y2="546.7" stroke="#444" stroke-width="0.6"/>
<line x1="65.7" y1="571.28" x2="67.3" y2="571.28" stroke="#444" stroke-width="0.6"/>
<line x1="65.7" y1="568.67" x2="67.3" y2="568.67" stroke="#444" stroke-width="0.6"/>
<line x1="65.7" y1="566.81" x2="67.3" y2="566.81" stroke="#444" stroke-width="0.6"/>
<line x1="65.7" y1="565.37" x2="67.3" y2="565.37" stroke="#444" stroke-width="0.6"/>
<line x1="65.7" y1="564.19" x2="67.3" y2="564.19" stroke="#444" stroke-width="0.6"/>
<line x1="65.7" y1="563.19" x2="67.3" y2="563.19" stroke="#444" stroke-width="0.6"/>
<line x1="65.7" y1="562.33" x2="67.3" y2="562.33" stroke="#444" stroke-width="0.6"/>
<line x1="65.7" y1="561.57" x2="67.3" y2="561.57" stroke="#444" stroke-width="0.6"/>
<line x1="65.7" y1="586.15" x2="67.3" y2="586.15" stroke="#444" stroke-width="0.6"/>
<line x1="65.7" y1="583.54" x2="67.3" y2="583.54" stroke="#444" stroke-width="0.6"/>
<line x1="65.7" y1="581.68" x2="67.3" y2="581.68" stroke="#444" stroke-width="0.6"/>
<line x1="65.7" y1="580.24" x2="67.3" y2="580.24" stroke="#444" stroke-width="0.6"/>
<line x1="65.7" y1="579.06" x2="67.3" y2="579.06" stroke="#444" stroke-width="0.6"/>
<line x1="65.7" y1="578.06" x2="67.3" y2="578.06" stroke="#444" stroke-width="0.6"/>
<line x1="65.7" y1="577.2" x2="67.3" y2="577.2" stroke="#444" stroke-width="0.6"/>
<line x1="65.7" y1="576.44" x2="67.3" y2="576.44" stroke="#444" stroke-width="0.6"/>
<text transform="translate(26.1 520.2) rotate(-90)" font-size="14.9" text-anchor="middle" stroke="none" textLength="81" lengthAdjust="spacingAndGlyphs">IL-6 (pg/mL)</text>
<circle cx="93.8" cy="470.2" r="3.5500000000000003" fill="#000"/>
<circle cx="89.3" cy="493" r="3.5500000000000003" fill="#000"/>
<circle cx="91.3" cy="494.3" r="3.5500000000000003" fill="#000"/>
<circle cx="99.2" cy="493.5" r="3.5500000000000003" fill="#000"/>
<circle cx="96.8" cy="501.2" r="3.5500000000000003" fill="#000"/>
<circle cx="85.8" cy="506.6" r="3.5500000000000003" fill="#000"/>
<circle cx="89.6" cy="508.5" r="3.5500000000000003" fill="#000"/>
<circle cx="101.9" cy="507.7" r="3.5500000000000003" fill="#000"/>
<circle cx="98.1" cy="509.5" r="3.5500000000000003" fill="#000"/>
<circle cx="93.8" cy="515" r="3.5500000000000003" fill="#000"/>
<line x1="81.3" y1="484.3" x2="106.8" y2="484.3" stroke="#2e2e2e" stroke-width="1.3"/>
<circle cx="127.3" cy="507.5" r="3.45" fill="none" stroke="#1a1a1a" stroke-width="1.3"/>
<circle cx="137.2" cy="508.6" r="3.45" fill="none" stroke="#1a1a1a" stroke-width="1.3"/>
<circle cx="128.6" cy="511" r="3.45" fill="none" stroke="#1a1a1a" stroke-width="1.3"/>
<circle cx="135.7" cy="511.7" r="3.45" fill="none" stroke="#1a1a1a" stroke-width="1.3"/>
<circle cx="124.3" cy="517.6" r="3.45" fill="none" stroke="#1a1a1a" stroke-width="1.3"/>
<circle cx="132" cy="523.1" r="3.45" fill="none" stroke="#1a1a1a" stroke-width="1.3"/>
<circle cx="139.8" cy="523.1" r="3.45" fill="none" stroke="#1a1a1a" stroke-width="1.3"/>
<line x1="120" y1="515" x2="145" y2="515" stroke="#2e2e2e" stroke-width="1.3"/>
<path d="M159.3 546.4L162.9 550L159.3 553.6L155.7 550Z" fill="#000"/>
<path d="M170.8 547.2L174.4 550.8L170.8 554.4L167.2 550.8Z" fill="#000"/>
<path d="M178.3 546.4L181.9 550L178.3 553.6L174.7 550Z" fill="#000"/>
<path d="M163 551.4L166.6 555L163 558.6L159.4 555Z" fill="#000"/>
<path d="M170.8 559.4L174.4 563L170.8 566.6L167.2 563Z" fill="#000"/>
<path d="M178.3 559.4L181.9 563L178.3 566.6L174.7 563Z" fill="#000"/>
<line x1="158.8" y1="553.8" x2="183.8" y2="553.8" stroke="#2e2e2e" stroke-width="1.3"/>
<path d="M214.3 544.9L217.4 548L214.3 551.1L211.2 548Z" fill="none" stroke="#1a1a1a" stroke-width="1.3"/>
<path d="M203.3 547.7L206.4 550.8L203.3 553.9L200.2 550.8Z" fill="none" stroke="#1a1a1a" stroke-width="1.3"/>
<path d="M216.8 551.4L219.9 554.5L216.8 557.6L213.7 554.5Z" fill="none" stroke="#1a1a1a" stroke-width="1.3"/>
<path d="M200.8 553.2L203.9 556.3L200.8 559.4L197.7 556.3Z" fill="none" stroke="#1a1a1a" stroke-width="1.3"/>
<path d="M212.5 554.4L215.6 557.5L212.5 560.6L209.4 557.5Z" fill="none" stroke="#1a1a1a" stroke-width="1.3"/>
<path d="M205 556.9L208.1 560L205 563.1L201.9 560Z" fill="none" stroke="#1a1a1a" stroke-width="1.3"/>
<path d="M208.8 559.9L211.9 563L208.8 566.1L205.7 563Z" fill="none" stroke="#1a1a1a" stroke-width="1.3"/>
<path d="M208.8 573.2L211.9 576.3L208.8 579.4L205.7 576.3Z" fill="none" stroke="#1a1a1a" stroke-width="1.3"/>
<line x1="196.3" y1="555" x2="221.3" y2="555" stroke="#2e2e2e" stroke-width="1.3"/>
<path d="M93.1 464V461.8H128.8V464" fill="none" stroke="#4a4a4a" stroke-width="1.05"/>
<text x="109.5" y="462.4" font-size="15.5" text-anchor="middle" stroke-width="0.7">***</text>
<path d="M173.8 497.2V495H208.3V497.2" fill="none" stroke="#4a4a4a" stroke-width="1.05"/>
<text x="192.5" y="492" font-size="14.5" text-anchor="middle" font-style="italic">ns</text>
<text x="76.5" y="619.4" font-size="14.3" textLength="17.14" lengthAdjust="spacingAndGlyphs">FII</text>
<text x="94.35" y="612" font-size="11" textLength="16.73" lengthAdjust="spacingAndGlyphs">WT</text>
<text x="113.63" y="619.4" font-size="14.3" textLength="17.14" lengthAdjust="spacingAndGlyphs">FII</text>
<text x="131.38" y="612" font-size="11" textLength="19.58" lengthAdjust="spacingAndGlyphs">lox/-</text>
<text x="153.3" y="619.4" font-size="14.3" textLength="17.14" lengthAdjust="spacingAndGlyphs">FII</text>
<text x="171.15" y="612" font-size="11" textLength="16.73" lengthAdjust="spacingAndGlyphs">WT</text>
<text x="190.43" y="619.4" font-size="14.3" textLength="17.14" lengthAdjust="spacingAndGlyphs">FII</text>
<text x="208.18" y="612" font-size="11" textLength="19.58" lengthAdjust="spacingAndGlyphs">lox/-</text>
<line x1="80" y1="625" x2="131" y2="625" stroke="#555" stroke-width="1.2"/>
<line x1="156.7" y1="625" x2="207.8" y2="625" stroke="#555" stroke-width="1.2"/>
<text x="108.5" y="640.8" font-size="14.4" text-anchor="middle">HbS</text>
<text x="186" y="640.8" font-size="14.4" text-anchor="middle">HbA</text>
<text x="297.3" y="447.4" font-size="16.5" font-weight="bold">F</text>
<line x1="364.6" y1="456.1" x2="364.6" y2="593.7" stroke="#383838" stroke-width="1.4"/>
<line x1="363.9" y1="593" x2="519" y2="593" stroke="#383838" stroke-width="1.4"/>
<line x1="362.4" y1="456.6" x2="364.6" y2="456.6" stroke="#383838" stroke-width="1.2"/>
<text x="360.1" y="460" font-size="11.3" text-anchor="end">30000</text>
<line x1="362.4" y1="502" x2="364.6" y2="502" stroke="#383838" stroke-width="1.2"/>
<text x="360.1" y="505.4" font-size="11.3" text-anchor="end">20000</text>
<line x1="362.4" y1="547.5" x2="364.6" y2="547.5" stroke="#383838" stroke-width="1.2"/>
<text x="360.1" y="550.9" font-size="11.3" text-anchor="end">10000</text>
<line x1="362.4" y1="593" x2="364.6" y2="593" stroke="#383838" stroke-width="1.2"/>
<text x="360.1" y="596.4" font-size="11.3" text-anchor="end">0</text>
<text transform="translate(318.6 529.3) rotate(-90)" font-size="15" text-anchor="middle" stroke="none" textLength="115" lengthAdjust="spacingAndGlyphs">sVCAM-1 (ng/ml)</text>
<circle cx="384.5" cy="471.8" r="3.5500000000000003" fill="#000"/>
<circle cx="384.4" cy="507.5" r="3.5500000000000003" fill="#000"/>
<circle cx="376.5" cy="514" r="3.5500000000000003" fill="#000"/>
<circle cx="384" cy="520" r="3.5500000000000003" fill="#000"/>
<circle cx="392" cy="519.5" r="3.5500000000000003" fill="#000"/>
<circle cx="379" cy="534.2" r="3.5500000000000003" fill="#000"/>
<circle cx="389.3" cy="535.4" r="3.5500000000000003" fill="#000"/>
<circle cx="376.7" cy="544.5" r="3.5500000000000003" fill="#000"/>
<circle cx="391.8" cy="546.3" r="3.5500000000000003" fill="#000"/>
<circle cx="384.3" cy="554.5" r="3.5500000000000003" fill="#000"/>
<line x1="371.8" y1="524.5" x2="397" y2="524.5" stroke="#5a5a5a" stroke-width="1.3"/>
<circle cx="422.5" cy="527.2" r="3.45" fill="none" stroke="#1a1a1a" stroke-width="1.3"/>
<circle cx="417.2" cy="531" r="3.45" fill="none" stroke="#1a1a1a" stroke-width="1.3"/>
<circle cx="427.8" cy="532.5" r="3.45" fill="none" stroke="#1a1a1a" stroke-width="1.3"/>
<circle cx="415" cy="537" r="3.45" fill="none" stroke="#1a1a1a" stroke-width="1.3"/>
<circle cx="420.2" cy="537.5" r="3.45" fill="none" stroke="#1a1a1a" stroke-width="1.3"/>
<circle cx="425" cy="538.5" r="3.45" fill="none" stroke="#1a1a1a" stroke-width="1.3"/>
<circle cx="429.7" cy="537.2" r="3.45" fill="none" stroke="#1a1a1a" stroke-width="1.3"/>
<circle cx="414.6" cy="547.2" r="3.45" fill="none" stroke="#1a1a1a" stroke-width="1.3"/>
<circle cx="430.2" cy="550.2" r="3.45" fill="none" stroke="#1a1a1a" stroke-width="1.3"/>
<circle cx="422.5" cy="556.9" r="3.45" fill="none" stroke="#1a1a1a" stroke-width="1.3"/>
<line x1="410" y1="539.5" x2="435" y2="539.5" stroke="#5a5a5a" stroke-width="1.3"/>
<path d="M461.3 532.2L464.9 535.8L461.3 539.4L457.7 535.8Z" fill="#000"/>
<path d="M452.5 545.9L456.1 549.5L452.5 553.1L448.9 549.5Z" fill="#000"/>
<path d="M469.5 545.9L473.1 549.5L469.5 553.1L465.9 549.5Z" fill="#000"/>
<path d="M456.3 548.4L459.9 552L456.3 555.6L452.7 552Z" fill="#000"/>
<path d="M464.3 553.4L467.9 557L464.3 560.6L460.7 557Z" fill="#000"/>
<path d="M461.3 556.4L464.9 560L461.3 563.6L457.7 560Z" fill="#000"/>
<line x1="448.8" y1="550.8" x2="473.8" y2="550.8" stroke="#5a5a5a" stroke-width="1.3"/>
<path d="M493.3 548.2L496.4 551.3L493.3 554.4L490.2 551.3Z" fill="none" stroke="#1a1a1a" stroke-width="1.3"/>
<path d="M505 546.9L508.1 550L505 553.1L501.9 550Z" fill="none" stroke="#1a1a1a" stroke-width="1.3"/>
<path d="M497.5 550.7L500.6 553.8L497.5 556.9L494.4 553.8Z" fill="none" stroke="#1a1a1a" stroke-width="1.3"/>
<path d="M502.5 552.4L505.6 555.5L502.5 558.6L499.4 555.5Z" fill="none" stroke="#1a1a1a" stroke-width="1.3"/>
<path d="M497.5 555.7L500.6 558.8L497.5 561.9L494.4 558.8Z" fill="none" stroke="#1a1a1a" stroke-width="1.3"/>
<line x1="487" y1="553.3" x2="512" y2="553.3" stroke="#5a5a5a" stroke-width="1.3"/>
<path d="M383.8 463.2V461H423.3V463.2" fill="none" stroke="#4a4a4a" stroke-width="1.05"/>
<text x="401.3" y="459" font-size="15.5" text-anchor="middle" stroke-width="0.7">*</text>
<path d="M465 478.5V476.3H505V478.5" fill="none" stroke="#4a4a4a" stroke-width="1.05"/>
<text x="486.3" y="470.8" font-size="14.5" text-anchor="middle" font-style="italic">ns</text>
<text x="366.5" y="615.4" font-size="14.3" textLength="17.3" lengthAdjust="spacingAndGlyphs">FII</text>
<text x="384.52" y="608" font-size="11" textLength="16.89" lengthAdjust="spacingAndGlyphs">WT</text>
<text x="403.99" y="615.4" font-size="14.3" textLength="17.3" lengthAdjust="spacingAndGlyphs">FII</text>
<text x="421.91" y="608" font-size="11" textLength="19.78" lengthAdjust="spacingAndGlyphs">lox/-</text>
<text x="443.3" y="615.4" font-size="14.3" textLength="17.3" lengthAdjust="spacingAndGlyphs">FII</text>
<text x="461.32" y="608" font-size="11" textLength="16.89" lengthAdjust="spacingAndGlyphs">WT</text>
<text x="480.79" y="615.4" font-size="14.3" textLength="17.3" lengthAdjust="spacingAndGlyphs">FII</text>
<text x="498.71" y="608" font-size="11" textLength="19.78" lengthAdjust="spacingAndGlyphs">lox/-</text>
<line x1="373" y1="621.6" x2="420.6" y2="621.6" stroke="#555" stroke-width="1.2"/>
<line x1="449.8" y1="621.6" x2="497.3" y2="621.6" stroke="#555" stroke-width="1.2"/>
<text x="397.6" y="636" font-size="14.4" text-anchor="middle">HbS</text>
<text x="473.2" y="636" font-size="14.4" text-anchor="middle">HbA</text>
</g>
</svg>
</body>
</html>
